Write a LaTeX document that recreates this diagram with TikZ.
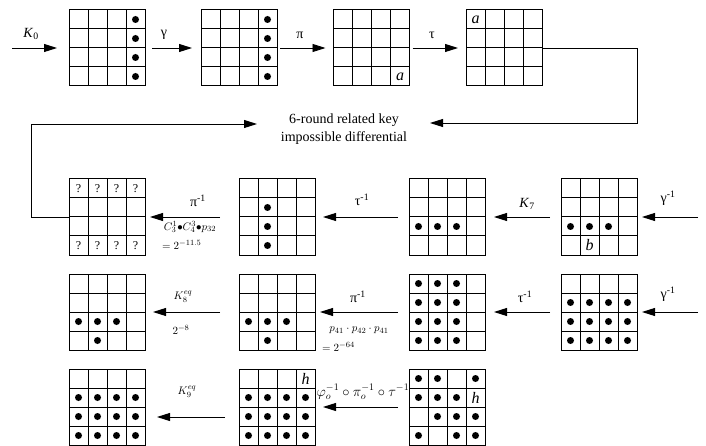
\documentclass[tikz,border=0pt]{standalone}
\usepackage{fontspec}
\setmainfont{Liberation Serif}
\usetikzlibrary{arrows.meta,calc}
\tikzset{
  gridbox/.style={draw, line width=1pt, minimum width=76pt, minimum height=76pt, inner sep=0pt, outer sep=0pt},
  gline/.style={line width=1pt},
  arr/.style={-{Triangle[length=13pt,width=8pt]}, line width=0.9pt},
  lbl/.style={font=\fontsize{14}{16}\selectfont, inner sep=0pt},
  mlbl/.style={font=\fontsize{11}{13}\selectfont, inner sep=0pt},
  cellt/.style={font=\fontsize{16}{17}\selectfont\itshape, inner sep=0pt},
  qm/.style={font=\fontsize{12}{13}\selectfont, inner sep=0pt},
  bigtxt/.style={font=\fontsize{14}{18}\selectfont, align=center, inner sep=0pt},
}
\newcommand\mkgrid[2]{%
  \node[gridbox] (#1) at (#2) {};
  \foreach \i in {1,2,3} {
    \draw[gline] ($(#1.north west)+(19*\i,0)$) -- ($(#1.south west)+(19*\i,0)$);
    \draw[gline] ($(#1.north west)+(0,19*\i)$) -- ($(#1.north east)+(0,19*\i)$);
  }}
\newcommand\gdot[3]{\fill ($(#1.north west)+(19*#2-9.5,19*#3-9.5)$) circle (3.5pt);}
\newcommand\gtxt[5]{\node[#4] at ($(#1.north west)+(19*#2-9.5,19*#3-9.5)$) {#5};}
\begin{document}
\begin{tikzpicture}[x=1pt,y=-1pt]
\useasboundingbox (0,0) rectangle (706,446);
% ---------- row 1 ----------
\mkgrid{g11}{107,48}
\mkgrid{g12}{239,48}
\mkgrid{g13}{371.5,48}
\mkgrid{g14}{504,48}
\foreach \r in {1,2,3,4} {\gdot{g11}{4}{\r} \gdot{g12}{4}{\r}}
\gtxt{g13}{4}{4}{cellt}{a}
\gtxt{g14}{1}{1}{cellt}{a}
\coordinate (in0) at (12,48);
\draw[arr, shorten >=12pt] (in0) -- (g11.west);
\draw[arr, shorten <=7pt, shorten >=9pt] (g11.east) -- (g12.west);
\draw[arr, shorten <=3pt, shorten >=8pt] (g12.east) -- (g13.west);
\draw[arr, shorten <=3pt, shorten >=8pt] (g13.east) -- (g14.west);
\node[lbl] (lk0) at (31,34) {\textit{K}\textsubscript{0}};
\node[lbl] (lga) at (164,35) {γ};
\node[lbl] (lpi) at (300,35) {π};
\node[lbl] (lta) at (432,35) {τ};
% ---------- middle text ----------
\node[bigtxt] (diff) at (344,129) {6-round related key\\impossible differential};
\coordinate (c1) at (637,48);
\coordinate (c2) at (637,123);
\coordinate (t1) at (430,123);
\draw[arr] (g14.east) -- (c1) -- (c2) -- (t1);
% ---------- row 2 ----------
\mkgrid{g21}{107,217}
\mkgrid{g22}{277,217}
\mkgrid{g23}{447,217}
\mkgrid{g24}{599,217}
\foreach \c in {1,2,3,4} {\gtxt{g21}{\c}{1}{qm}{?} \gtxt{g21}{\c}{4}{qm}{?}}
\foreach \r in {2,3,4} {\gdot{g22}{2}{\r}}
\foreach \c in {1,2,3} {\gdot{g23}{\c}{3} \gdot{g24}{\c}{3}}
\gtxt{g24}{2}{4}{cellt}{b}
\coordinate (c3) at (31,217);
\coordinate (c4) at (31,124);
\coordinate (t2) at (257,124);
\draw[arr] (g21.west) -- (c3) -- (c4) -- (t2);
\coordinate (in2) at (698,217);
\draw[arr, shorten >=5pt] (in2) -- (g24.east);
\draw[arr, shorten <=11pt, shorten >=9pt] (g24.west) -- (g23.east);
\draw[arr, shorten <=11pt, shorten >=8pt] (g23.west) -- (g22.east);
\draw[arr, shorten <=19pt, shorten >=5pt] (g22.west) -- (g21.east);
\node[lbl] (l21) at (198,201) {π\textsuperscript{-1}};
\node[mlbl] (l22) at (190,227) {$C_3^1{\bullet}C_4^3{\bullet}p_{32}$};
\node[mlbl, anchor=west] (l23) at (162,245) {$=2^{-11.5}$};
\node[lbl] (l24) at (362,200) {τ\textsuperscript{-1}};
\node[lbl] (l25) at (527,204) {\textit{K}\textsubscript{7}};
\node[lbl] (l26) at (668,198) {γ\textsuperscript{-1}};
% ---------- row 3 ----------
\mkgrid{g31}{107,312}
\mkgrid{g32}{277,312}
\mkgrid{g33}{447,312}
\mkgrid{g34}{599,312}
\foreach \g in {g31,g32} {\gdot{\g}{1}{3} \gdot{\g}{2}{3} \gdot{\g}{3}{3} \gdot{\g}{2}{4}}
\foreach \c in {1,2,3} {\foreach \r in {1,2,3,4} {\gdot{g33}{\c}{\r}}}
\foreach \c in {1,2,3,4} {\foreach \r in {2,3,4} {\gdot{g34}{\c}{\r}}}
\coordinate (in3) at (698,312);
\draw[arr, shorten >=5pt] (in3) -- (g34.east);
\draw[arr, shorten <=11pt, shorten >=9pt] (g34.west) -- (g33.east);
\draw[arr, shorten <=11pt, shorten >=5pt] (g33.west) -- (g32.east);
\draw[arr, shorten <=19pt, shorten >=8pt] (g32.west) -- (g31.east);
\node[mlbl] (l31) at (183,297) {$K_8^{eq}$};
\node[mlbl] (l32) at (181,330) {$2^{-8}$};
\node[lbl] (l33) at (358,297) {π\textsuperscript{-1}};
\node[mlbl] (l34) at (359,330) {$p_{41}\cdot p_{42}\cdot p_{41}$};
\node[mlbl, anchor=west] (l35) at (322,347) {$=2^{-64}$};
\node[lbl] (l36) at (525,297) {τ\textsuperscript{-1}};
\node[lbl] (l37) at (668,294) {γ\textsuperscript{-1}};
% ---------- row 4 ----------
\mkgrid{g41}{107,407}
\mkgrid{g42}{277,407}
\mkgrid{g43}{447,407}
\foreach \c in {1,2,3,4} {\foreach \r in {2,3,4} {\gdot{g41}{\c}{\r} \gdot{g42}{\c}{\r}}}
\gtxt{g42}{4}{1}{cellt}{h}
\foreach \c/\r in {1/1,2/1,4/1,1/2,2/2,3/2,2/3,3/3,4/3,1/4,3/4,4/4} {\gdot{g43}{\c}{\r}}
\gtxt{g43}{4}{2}{cellt}{h}
\draw[arr, shorten <=14pt, shorten >=12pt] ([yshift=-10pt]g42.west) -- ([yshift=-10pt]g41.east);
\draw[arr, shorten <=11pt, shorten >=8pt] (g43.west) -- (g42.east);
\node[mlbl] (l41) at (187,392) {$K_9^{eq}$};
\node[font=\fontsize{14}{16}\selectfont, inner sep=0pt] (l42) at (363,392) {$\varphi_o^{-1}\circ\pi_o^{-1}\circ\tau^{-1}$};
\end{tikzpicture}
\end{document}
